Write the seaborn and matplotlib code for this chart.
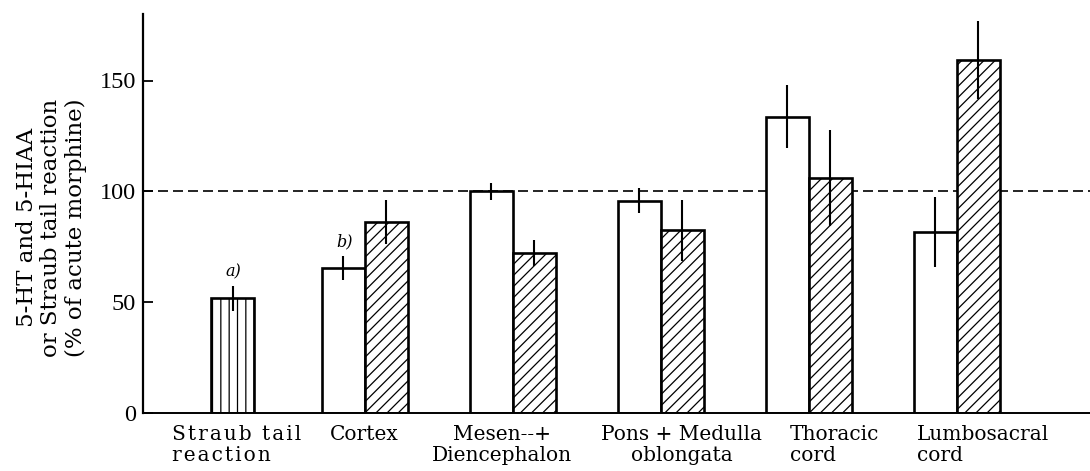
import matplotlib
matplotlib.use("Agg")
import matplotlib.pyplot as plt
import seaborn as sns

# --- data -------------------------------------------------------------
region_labels = [
    "S\u200at\u200ar\u200aa\u200au\u200ab\u2009 t\u200aa\u200ai\u200al\nr\u200ae\u200aa\u200ac\u200at\u200ai\u200ao\u200an",
    "Cortex",
    "Mesen--+\nDiencephalon",
    "Pons + Medulla\noblongata",
    "Thoracic\ncord",
    "Lumbosacral\ncord",
]
straub_value = [51.7]
straub_err = [5.6]
ht_values = [65.4, 100.0, 95.8, 133.6, 81.8]      # open bars
ht_err = [5.6, 3.8, 5.6, 14.2, 15.8]
hiaa_values = [86.1, 72.1, 82.4, 106.0, 159.2]    # hatched bars
hiaa_err = [9.8, 6.0, 13.9, 21.8, 17.7]
y_ticks = [0, 50, 100, 150]
reference_level = 100

# --- style ------------------------------------------------------------
sns.set_theme(style="ticks")
plt.rcParams["font.family"] = ["DejaVu Serif", "DejaVu Sans"]
plt.rcParams.update({
    "hatch.linewidth": 0.9,
    "hatch.color": "black",
    "text.color": "black",
    "axes.labelcolor": "black",
    "xtick.color": "black",
    "ytick.color": "black",
})

fig = plt.figure(figsize=(10.9, 4.71), dpi=100)
ax = fig.add_axes([143 / 1090, 1 - 413 / 471, (1090 - 143) / 1090, (413 - 14) / 471])

bar_w = 0.29
groups = list(range(1, len(region_labels)))
ht_x = [g - bar_w / 2 for g in groups]
hiaa_x = [g + bar_w / 2 for g in groups]
straub_x = [0.11]

edge_kw = dict(edgecolor="black", linewidth=1.9, errorbar=None,
               native_scale=True, saturation=1, width=bar_w, zorder=2, ax=ax)


def bars(x, y, hatch):
    n0 = len(ax.patches)
    sns.barplot(x=x, y=y, color="white", **edge_kw)
    for p in ax.patches[n0:]:
        p.set_hatch(hatch)


bars(straub_x, straub_value, "||")
bars(ht_x, ht_values, "")
bars(hiaa_x, hiaa_values, "///")

for x, y, e in [(straub_x, straub_value, straub_err),
                (ht_x, ht_values, ht_err),
                (hiaa_x, hiaa_values, hiaa_err)]:
    ax.errorbar(x, y, yerr=e, fmt="none", ecolor="black",
                elinewidth=1.5, capsize=0, zorder=4)

ax.axhline(reference_level, color="black", lw=1.2, dashes=(6, 3), zorder=1.5)

# significance marks
ax.annotate("a)", xy=(straub_x[0], straub_value[0] + straub_err[0]),
            xytext=(0, 4), textcoords="offset points", ha="center", va="bottom",
            fontsize=11.5, fontstyle="italic", color="black")
ax.annotate("b)", xy=(ht_x[0], ht_values[0] + ht_err[0]),
            xytext=(1, 4), textcoords="offset points", ha="center", va="bottom",
            fontsize=11.5, fontstyle="italic", color="black")

# axes
ax.set_xlim(-0.497, 5.899)
ax.set_ylim(0, 180)
ax.set_yticks(y_ticks)
ax.set_yticklabels([str(t) for t in y_ticks], family="Liberation Serif", fontsize=17.5)
ax.tick_params(axis="y", direction="in", length=7, width=1.3, pad=5, colors="black")
ax.set_xticks([])
ax.set_xlabel("")
sns.despine(ax=ax)
ax.spines["left"].set_linewidth(1.6)
ax.spines["bottom"].set_linewidth(1.4)
for s in ("left", "bottom"):
    ax.spines[s].set_color("black")

# region labels below the baseline
label_pos = [(-0.304, "left"), (1.0, "center"), (1.93, "center"),
             (3.14, "center"), (3.87, "left"), (4.73, "left")]
for text, (xp, ha) in zip(region_labels, label_pos):
    ax.text(xp, -0.03, text, transform=ax.get_xaxis_transform(),
            ha=ha, va="top", multialignment=ha, fontsize=14.5,
            linespacing=1.15, color="black")

ax.set_ylabel("5-HT and 5-HIAA\nor Straub tail reaction\n(% of acute morphine)",
              fontsize=16.5, multialignment="center", ha="center", va="center",
              linespacing=1.15, color="black")
ax.yaxis.set_label_coords(-0.097, 0.464)

fig.savefig("out.png", dpi=100, facecolor="white")
